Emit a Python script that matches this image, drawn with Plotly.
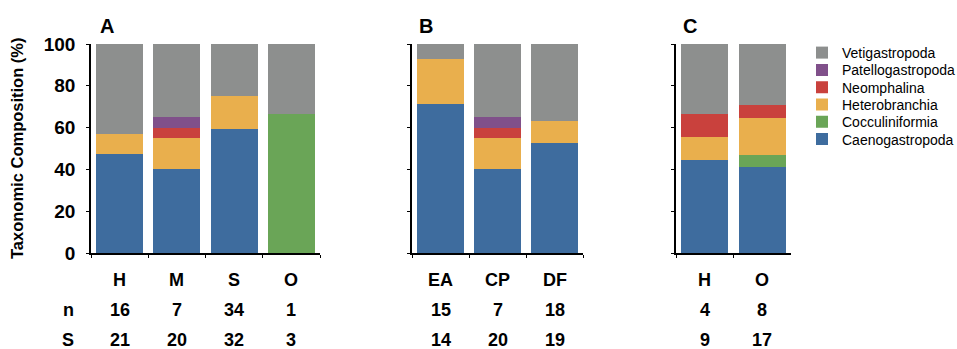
import plotly.graph_objects as go

# ---------------- data ----------------
taxa = ["Caenogastropoda", "Cocculiniformia", "Heterobranchia",
        "Neomphalina", "Patellogastropoda", "Vetigastropoda"]
colors = ["#3e6c9e", "#6aa557", "#e9af4d", "#c9413d", "#80508a", "#8d8f8e"]

cats_a = ["H", "M", "S", "O"]
n_a = [16, 7, 34, 1]
s_a = [21, 20, 32, 3]
vals_a = {
    "Caenogastropoda":   [47.6, 40.0, 59.4, 0.0],
    "Cocculiniformia":   [0.0, 0.0, 0.0, 66.7],
    "Heterobranchia":    [9.5, 15.0, 15.6, 0.0],
    "Neomphalina":       [0.0, 5.0, 0.0, 0.0],
    "Patellogastropoda": [0.0, 5.0, 0.0, 0.0],
    "Vetigastropoda":    [42.9, 35.0, 25.0, 33.3],
}

cats_b = ["EA", "CP", "DF"]
n_b = [15, 7, 18]
s_b = [14, 20, 19]
vals_b = {
    "Caenogastropoda":   [71.4, 40.0, 52.6],
    "Cocculiniformia":   [0.0, 0.0, 0.0],
    "Heterobranchia":    [21.5, 15.0, 10.6],
    "Neomphalina":       [0.0, 5.0, 0.0],
    "Patellogastropoda": [0.0, 5.0, 0.0],
    "Vetigastropoda":    [7.1, 35.0, 36.8],
}

cats_c = ["H", "O"]
n_c = [4, 8]
s_c = [9, 17]
vals_c = {
    "Caenogastropoda":   [44.4, 41.2],
    "Cocculiniformia":   [0.0, 5.9],
    "Heterobranchia":    [11.2, 17.6],
    "Neomphalina":       [11.1, 5.9],
    "Patellogastropoda": [0.0, 0.0],
    "Vetigastropoda":    [33.3, 29.4],
}

panel_letters = ["A", "B", "C"]
y_ticks = [0, 20, 40, 60, 80, 100]

# ---------------- figure ----------------
W, H = 957, 349
ML, MR, MT, MB = 0, 40, 0, 0
PW, PH = W - ML - MR, H - MT - MB
FONT = "Liberation Sans"

def px_x(p):
    return (p - ML) / PW

def px_y(p):
    return 1 - (p - MT) / PH

fig = go.Figure()

# one small legend per taxon so the rows can sit as tightly as in the reference
legend_ids = {t: ("legend" if k == 0 else "legend%d" % (k + 1))
              for k, t in enumerate(reversed(taxa))}

panels = [
    (cats_a, vals_a, "x", "y"),
    (cats_b, vals_b, "x2", "y2"),
    (cats_c, vals_c, "x3", "y3"),
]
for pi, (cats, vals, xa, ya) in enumerate(panels):
    for t, c in zip(taxa, colors):
        fig.add_trace(go.Bar(
            x=cats, y=vals[t], name=t, marker=dict(color=c, line=dict(width=0)),
            xaxis=xa, yaxis=ya, showlegend=(pi == 0), legend=legend_ids[t],
            legendgroup=t,
            hovertemplate="%{x}: %{y:.1f}%<extra>" + t + "</extra>",
        ))

ydom = [px_y(253), px_y(44)]
xdoms = [[px_x(91), px_x(320)], [px_x(412), px_x(583)], [px_x(676), px_x(791)]]

axis_common = dict(showline=True, linecolor="black", linewidth=1.5,
                   showgrid=False, zeroline=False, fixedrange=True, automargin=False)

for i, dom in enumerate(xdoms):
    sfx = "" if i == 0 else str(i + 1)
    fig.layout["xaxis" + sfx] = dict(
        domain=dom, anchor="y" + sfx, showticklabels=False,
        ticks="outside", ticklen=3, tickwidth=1, tickcolor="black",
        tickson="boundaries", **axis_common)
    fig.layout["yaxis" + sfx] = dict(
        domain=ydom, anchor="x" + sfx, range=[0, 100],
        tickvals=y_ticks, ticks="outside", ticklen=3, tickwidth=1,
        tickcolor="black", showticklabels=(i == 0),
        tickfont=dict(family=FONT, size=19, color="black", weight="bold"),
        ticklabelstandoff=7, **axis_common)

annotations = []
# panel letters
letter_x = [107, 426, 690]
for L, lx in zip(panel_letters, letter_x):
    annotations.append(dict(text=L, x=px_x(lx), y=px_y(26), xref="paper", yref="paper",
                            showarrow=False, xanchor="center", yanchor="middle",
                            font=dict(family=FONT, size=20, color="black", weight="bold")))

# y-axis title
annotations.append(dict(text="Taxonomic Composition (%)", x=px_x(17), y=px_y(148),
                        xref="paper", yref="paper", showarrow=False, textangle=-90,
                        xanchor="center", yanchor="middle",
                        font=dict(family=FONT, size=16.5, color="black", weight="bold")))

# category labels and n / S rows
row_y = [280, 310, 340]
lab_font = dict(family=FONT, size=18, color="black", weight="bold")
for (cats, ns, ss), xa in zip([(cats_a, n_a, s_a), (cats_b, n_b, s_b), (cats_c, n_c, s_c)],
                              ["x", "x2", "x3"]):
    for j, cat in enumerate(cats):
        for txt, ry in zip([cat, str(ns[j]), str(ss[j])], row_y):
            annotations.append(dict(text=txt, x=cat, y=px_y(ry), xref=xa, yref="paper",
                                    showarrow=False, xanchor="center", yanchor="middle",
                                    font=lab_font))
for txt, ry in zip(["n", "S"], row_y[1:]):
    annotations.append(dict(text=txt, x=px_x(68), y=px_y(ry), xref="paper", yref="paper",
                            showarrow=False, xanchor="center", yanchor="middle",
                            font=lab_font))

fig.update_layout(
    template="none",
    width=W, height=H,
    margin=dict(l=ML, r=MR, t=MT, b=MB, pad=0, autoexpand=False),
    paper_bgcolor="white", plot_bgcolor="white",
    barmode="stack", bargap=0.18,
    annotations=annotations,
    font=dict(family=FONT),
    showlegend=True,
)

legend_row_y = [53, 70.3, 87.6, 104.9, 122.2, 139.5]
for k, t in enumerate(reversed(taxa)):
    fig.layout[legend_ids[t]] = dict(
        x=px_x(802), y=px_y(legend_row_y[k]), xanchor="left", yanchor="middle",
        font=dict(family=FONT, size=14, color="black"),
        bgcolor="rgba(0,0,0,0)", borderwidth=0, itemwidth=30, tracegroupgap=0,
        itemclick=False, itemdoubleclick=False)

fig.write_html("out.html",
               config={"displayModeBar": False},
               post_script="document.body.style.margin='0';document.body.style.overflow='hidden';")
